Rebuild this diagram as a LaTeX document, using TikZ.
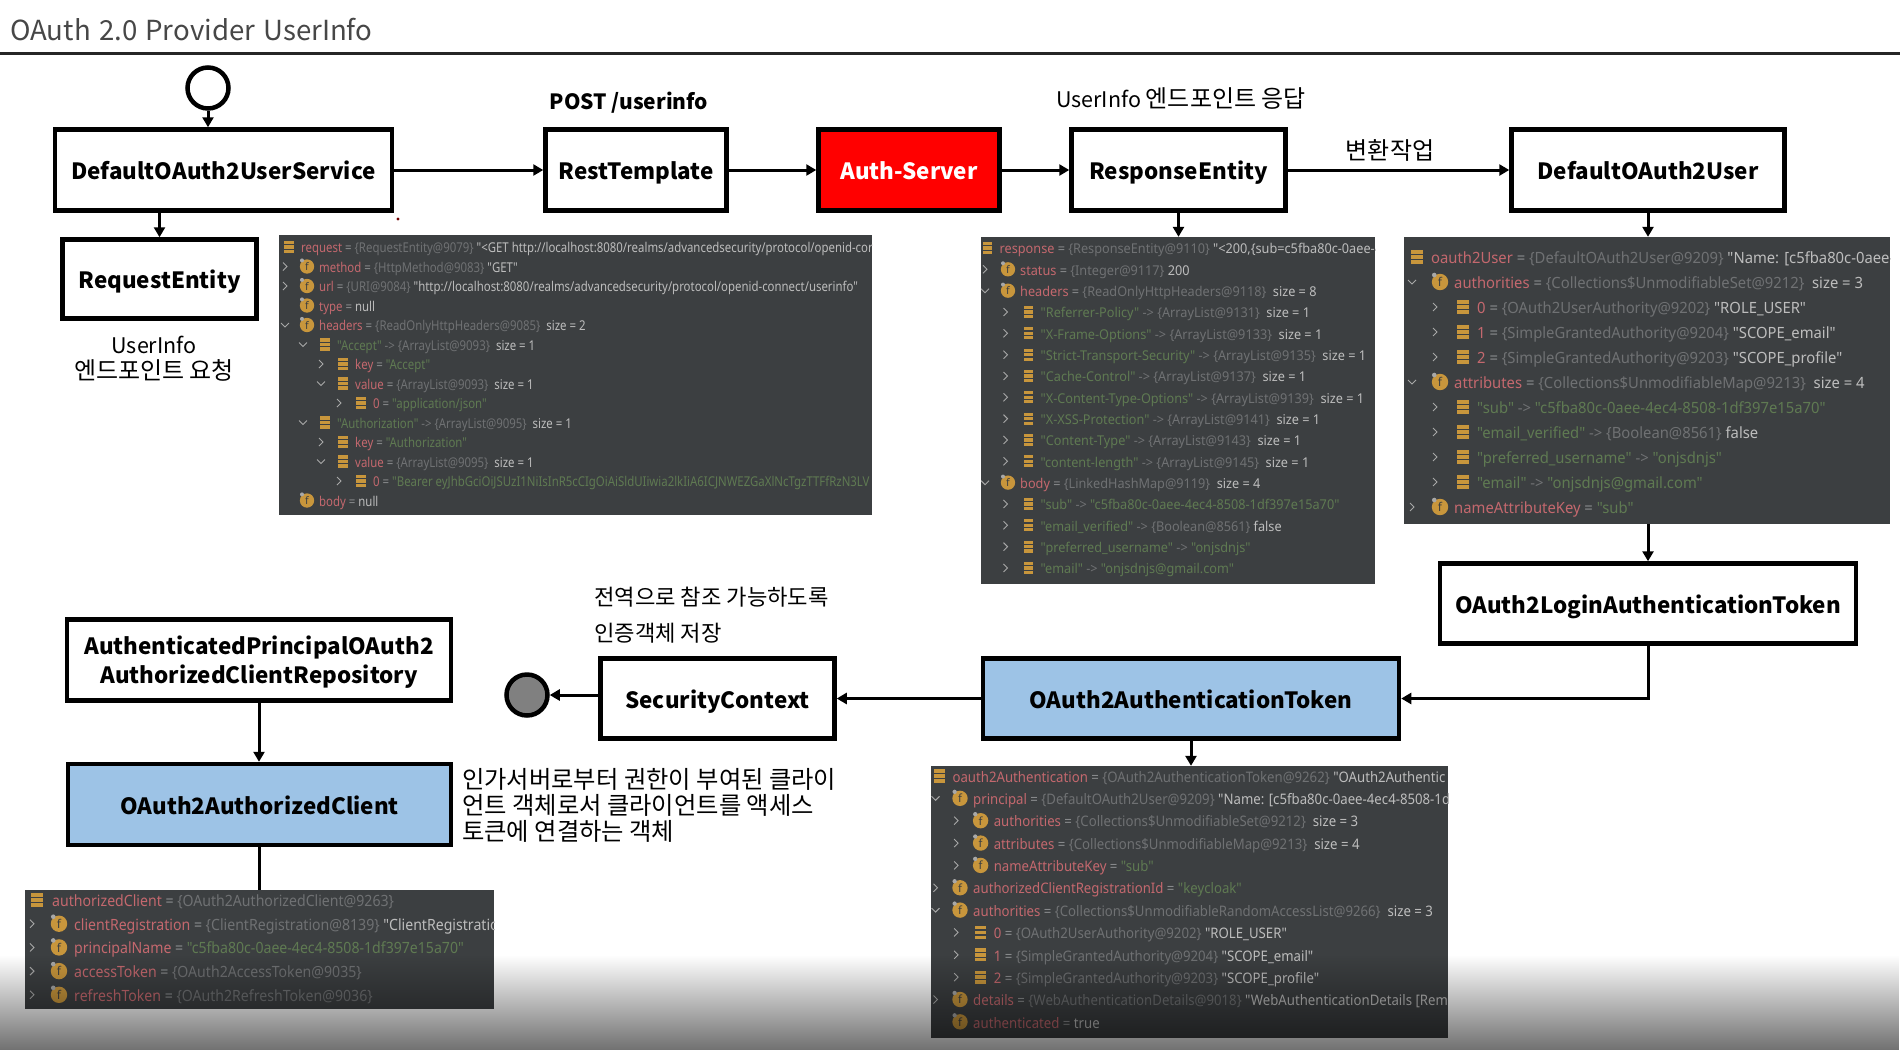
\documentclass[tikz,border=0pt]{standalone}
\usepackage{fontspec}
\setmainfont{Noto Sans CJK KR}
\newfontfamily\dbg{Noto Sans}
\usetikzlibrary{arrows.meta,fadings}
\definecolor{panelbg}{HTML}{3C3F41}
\definecolor{dbgred}{HTML}{C4686E}
\definecolor{dbgeq}{HTML}{8A8C8E}
\definecolor{dbgcl}{HTML}{6F7173}
\definecolor{dbgvl}{HTML}{BDBDBD}
\definecolor{dbgsg}{HTML}{5F7A52}
\definecolor{iconor}{HTML}{C8963C}
\definecolor{chevc}{HTML}{A8A8A8}
\definecolor{boxblue}{HTML}{9DC3E6}
\tikzfading[name=bottomfade, top color=transparent!100, bottom color=transparent!44]
\newcommand{\Fd}[1]{\textcolor{dbgred}{#1}}
\newcommand{\Eq}{\ \textcolor{dbgeq}{=}\ }
\newcommand{\Ar}{\ \textcolor{dbgcl}{->}\ }
\newcommand{\Cl}[1]{\textcolor{dbgcl}{\{#1\}}}
\newcommand{\Vl}[1]{\textcolor{dbgvl}{#1}}
\newcommand{\Sg}[1]{\textcolor{dbgsg}{#1}}
\newcommand{\Sz}[1]{\ \ \textcolor{dbgvl}{size = #1}}
\newcommand{\kr}[1]{{\fontsize{24}{26}\selectfont #1}}
\newcommand{\panelset}[9]{\def\pxl{#1}\def\pyt{#2}\def\pstep{#3}\def\pch{#4}\def\pico{#5}\def\ptex{#6}\def\pind{#7}\def\pfs{#8}\def\psx{#9}}
\newcommand{\prow}[6]{%
  \pgfmathsetmacro{\ry}{\pyt+#2*\pstep}%
  \pgfmathsetmacro{\rc}{\pxl+\pch+#3*\pind}%
  \pgfmathsetmacro{\ri}{\pxl+\pico+#3*\pind}%
  \pgfmathsetmacro{\rt}{\pxl+\ptex+#3*\pind}%
  \pgfmathsetmacro{\rb}{\ry+0.36*\pfs+1}%
  \pgfmathsetmacro{\rr}{0.53*\pfs}%
  \pgfmathsetmacro{\rff}{0.78*\pfs}%
  \if#4r\draw[chev] (\rc-2,\ry-4) -- (\rc+2,\ry) -- (\rc-2,\ry+4);\fi
  \if#4d\draw[chev] (\rc-4,\ry-2) -- (\rc,\ry+2) -- (\rc+4,\ry-2);\fi
  \if#5f
    \fill[iconor] (\ri,\ry) circle[radius=\rr];
    \fill[chevc] (\ri-0.7*\rr,\ry-0.85*\rr) circle[radius=0.28*\rr];
    \node[inner sep=0,text=panelbg] (#1-i) at (\ri,\ry) {\dbg\fontsize{\rff}{\pfs}\selectfont f};
  \fi
  \if#5b
    \fill[iconor] (\ri-0.68*\rr,\ry-0.85*\rr) rectangle (\ri+0.68*\rr,\ry-0.4*\rr);
    \fill[iconor] (\ri-0.68*\rr,\ry-0.22*\rr) rectangle (\ri+0.68*\rr,\ry+0.22*\rr);
    \fill[iconor] (\ri-0.68*\rr,\ry+0.4*\rr) rectangle (\ri+0.68*\rr,\ry+0.85*\rr);
  \fi
  \node[rowtext] (#1) at (\rt,\rb) {\scalebox{\psx}[1]{\dbg\fontsize{\pfs}{\pfs}\selectfont #6}};
}
\tikzset{
  basebox/.style={draw=black,line width=4.5pt,fill=white,inner sep=0pt,font=\bfseries\fontsize{22.4}{29}\selectfont,text=black},
  flowbox/.style={basebox,text height=19pt,text depth=0pt},
  bluebox/.style={flowbox,fill=boxblue},
  redbox/.style={flowbox,fill=red,text=white},
  panel/.style={fill=panelbg,inner sep=0pt},
  flow/.style={line width=3pt,-{Triangle[length=10pt,width=11pt]}},
  plainline/.style={line width=3pt},
  rowtext/.style={anchor=base west,inner sep=0pt},
  chev/.style={draw=chevc,line width=0.9pt},
  label/.style={inner sep=0pt,text=black,font=\fontsize{21.5}{26}\selectfont},
  boldlabel/.style={label,font=\bfseries\fontsize{21}{26}\selectfont},
}
\begin{document}
\begin{tikzpicture}[x=1pt,y=-1pt]
\useasboundingbox (0,0) rectangle (1900,1050);
\fill[white] (0,0) rectangle (1900,1050);
% title
\node[inner sep=0,anchor=west,text=black!72,font=\fontsize{27.6}{32}\selectfont] (title) at (10,30) {OAuth\hspace{2pt} 2.0\hspace{2pt} Provider\hspace{2pt} UserInfo};
\coordinate (ruleL) at (0,53);
\coordinate (ruleR) at (1900,53);
\draw[line width=3pt,black!85] (ruleL) -- (ruleR);
% flow boxes
\node[flowbox,minimum width=337,minimum height=81] (svc) at (223.5,170) {DefaultOAuth2UserService};
\node[flowbox,minimum width=181,minimum height=81] (rest) at (636,170) {RestTemplate};
\node[redbox,minimum width=181,minimum height=81] (auth) at (909,170) {Auth-Server};
\node[flowbox,minimum width=214,minimum height=81] (resp) at (1178.5,170) {ResponseEntity};
\node[flowbox,minimum width=273,minimum height=81] (user) at (1648,170) {DefaultOAuth2User};
\node[flowbox,minimum width=194,minimum height=79] (reqent) at (159.5,279) {RequestEntity};
\node[flowbox,minimum width=416,minimum height=80] (login) at (1648,603.5) {OAuth2LoginAuthenticationToken};
\node[bluebox,minimum width=416,minimum height=80] (atok) at (1191,698.5) {OAuth2AuthenticationToken};
\node[flowbox,minimum width=234,minimum height=80] (sec) at (717.5,698.5) {SecurityContext};
\node[basebox,minimum width=384,minimum height=81] (repo) at (259,660) {\raisebox{-3.5pt}[\height][\depth]{\begin{tabular}{@{}c@{}}AuthenticatedPrincipalOAuth2\\AuthorizedClientRepository\end{tabular}}};
\node[bluebox,minimum width=383,minimum height=81] (cli) at (259.5,804.5) {OAuth2AuthorizedClient};
\node[draw=black,line width=4.5pt,fill=white,circle,minimum size=41,inner sep=0] (start) at (208,88) {};
\node[draw=black,line width=4.5pt,fill=black!50,circle,minimum size=41,inner sep=0] (finish) at (527,695) {};
\fill[red!45!black] (398,219) circle[radius=1.6];
% panels
\node[panel,minimum width=593,minimum height=280] (preq) at (575.5,375) {};
\node[panel,minimum width=394,minimum height=347] (presp) at (1178,410.5) {};
\node[panel,minimum width=486,minimum height=287] (puser) at (1647,380.5) {};
\node[panel,minimum width=517,minimum height=272] (pauth) at (1189.5,902) {};
\node[panel,minimum width=469,minimum height=119] (pcli) at (259.5,949.5) {};
% connectors
\draw[flow] (start.south) -- (start.south |- svc.north);
\draw[flow] (svc) -- (rest);
\draw[flow] (rest) -- (auth);
\draw[flow] (auth) -- (resp);
\draw[flow] (resp) -- (user);
\draw[flow] (reqent.north |- svc.south) -- (reqent.north);
\draw[flow] (resp.south) -- (resp.south |- presp.north);
\draw[flow] (user.south) -- (user.south |- puser.north);
\draw[flow] (login.north |- puser.south) -- (login.north);
\draw[flow] (login.south) |- (atok.east);
\draw[flow] (atok) -- (sec);
\draw[flow] (sec.west |- finish.east) -- (finish.east);
\draw[flow] (atok.south) -- (atok.south |- pauth.north);
\draw[flow] (repo.south) -- (repo.south |- cli.north);
\draw[plainline] (cli.south) -- (cli.south |- pcli.north);
% labels
\node[boldlabel] (l1) at (629,103) {POST /userinfo};
\node[label] (l2) at (1181,99) {UserInfo \kr{엔드포인트 응답}};
\node[label] (l3) at (1390,150) {\kr{변환작업}};
\node[label,align=center] (l4) at (154,359) {UserInfo\\\kr{엔드포인트 요청}};
\node[label,anchor=west,font=\fontsize{22.2}{26}\selectfont] (l5) at (594,597) {전역으로 참조 가능하도록};
\node[label,anchor=west,font=\fontsize{22.2}{26}\selectfont] (l6) at (594,633) {인증객체 저장};
\node[label,anchor=west,align=left,font=\fontsize{24.3}{26}\selectfont] (l7) at (462,805.5) {인가서버로부터 권한이 부여된 클라이\\언트 객체로서 클라이언트를 액세스\\토큰에 연결하는 객체};
% request panel rows
\begin{scope}
\clip (preq.north west) rectangle (preq.south east);
\panelset{279}{247}{19.5}{6}{28}{40}{18}{13.5}{0.845}
\prow{qa}{0}{-1}{n}{b}{\Fd{request}\Eq\Cl{RequestEntity@9079} \Vl{"<GET http://localhost:8080/realms/advancedsecurity/protocol/openid-cor}}
\prow{qb}{1}{0}{r}{f}{\Fd{method}\Eq\Cl{HttpMethod@9083} \Vl{"GET"}}
\prow{qc}{2}{0}{r}{f}{\Fd{url}\Eq\Cl{URI@9084} \Vl{"http://localhost:8080/realms/advancedsecurity/protocol/openid-connect/userinfo"}}
\prow{qd}{3}{0}{n}{f}{\Fd{type}\Eq\Vl{null}}
\prow{qe}{4}{0}{d}{f}{\Fd{headers}\Eq\Cl{ReadOnlyHttpHeaders@9085}\Sz{2}}
\prow{qf}{5}{1}{d}{b}{\Sg{"Accept"}\Ar\Cl{ArrayList@9093}\Sz{1}}
\prow{qg}{6}{2}{r}{b}{\Fd{key}\Eq\Sg{"Accept"}}
\prow{qh}{7}{2}{d}{b}{\Fd{value}\Eq\Cl{ArrayList@9093}\Sz{1}}
\prow{qi}{8}{3}{r}{b}{\Fd{0}\Eq\Sg{"application/json"}}
\prow{qj}{9}{1}{d}{b}{\Sg{"Authorization"}\Ar\Cl{ArrayList@9095}\Sz{1}}
\prow{qk}{10}{2}{r}{b}{\Fd{key}\Eq\Sg{"Authorization"}}
\prow{ql}{11}{2}{d}{b}{\Fd{value}\Eq\Cl{ArrayList@9095}\Sz{1}}
\prow{qm}{12}{3}{r}{b}{\Fd{0}\Eq\Sg{"Bearer eyJhbGciOiJSUzI1NiIsInR5cCIgOiAiSldUIiwia2lkIiA6ICJNWEZGaXlNcTgzTTFfRzN3LV}}
\prow{qn}{13}{0}{n}{f}{\Fd{body}\Eq\Vl{null}}
\end{scope}
% response panel rows
\begin{scope}
\clip (presp.north west) rectangle (presp.south east);
\panelset{981}{248}{21.33}{4}{27}{39}{20.5}{13.5}{0.94}
\prow{ra}{0}{-1}{n}{b}{\Fd{response}\Eq\Cl{ResponseEntity@9110} \Vl{"<200,\{sub=c5fba80c-0aee-4}}
\prow{rb}{1}{0}{r}{f}{\Fd{status}\Eq\Cl{Integer@9117} \Vl{200}}
\prow{rc}{2}{0}{d}{f}{\Fd{headers}\Eq\Cl{ReadOnlyHttpHeaders@9118}\Sz{8}}
\prow{rd}{3}{1}{r}{b}{\Sg{"Referrer-Policy"}\Ar\Cl{ArrayList@9131}\Sz{1}}
\prow{re}{4}{1}{r}{b}{\Sg{"X-Frame-Options"}\Ar\Cl{ArrayList@9133}\Sz{1}}
\prow{rf}{5}{1}{r}{b}{\Sg{"Strict-Transport-Security"}\Ar\Cl{ArrayList@9135}\Sz{1}}
\prow{rg}{6}{1}{r}{b}{\Sg{"Cache-Control"}\Ar\Cl{ArrayList@9137}\Sz{1}}
\prow{rh}{7}{1}{r}{b}{\Sg{"X-Content-Type-Options"}\Ar\Cl{ArrayList@9139}\Sz{1}}
\prow{ri}{8}{1}{r}{b}{\Sg{"X-XSS-Protection"}\Ar\Cl{ArrayList@9141}\Sz{1}}
\prow{rj}{9}{1}{r}{b}{\Sg{"Content-Type"}\Ar\Cl{ArrayList@9143}\Sz{1}}
\prow{rk}{10}{1}{r}{b}{\Sg{"content-length"}\Ar\Cl{ArrayList@9145}\Sz{1}}
\prow{rl}{11}{0}{d}{f}{\Fd{body}\Eq\Cl{LinkedHashMap@9119}\Sz{4}}
\prow{rm}{12}{1}{r}{b}{\Sg{"sub"}\Ar\Sg{"c5fba80c-0aee-4ec4-8508-1df397e15a70"}}
\prow{rn}{13}{1}{r}{b}{\Sg{"email\_verified"}\Ar\Cl{Boolean@8561} \Vl{false}}
\prow{ro}{14}{1}{r}{b}{\Sg{"preferred\_username"}\Ar\Sg{"onjsdnjs"}}
\prow{rp}{15}{1}{r}{b}{\Sg{"email"}\Ar\Sg{"onjsdnjs@gmail.com"}}
\end{scope}
% oauth2User panel rows
\begin{scope}
\clip (puser.north west) rectangle (puser.south east);
\panelset{1404}{257}{25}{8}{36}{50}{23}{15.5}{0.955}
\prow{ua}{0}{-1}{n}{b}{\Fd{oauth2User}\Eq\Cl{DefaultOAuth2User@9209} \Vl{"Name: [c5fba80c-0aee-}}
\prow{ub}{1}{0}{d}{f}{\Fd{authorities}\Eq\Cl{Collections\$UnmodifiableSet@9212}\Sz{3}}
\prow{uc}{2}{1}{r}{b}{\Fd{0}\Eq\Cl{OAuth2UserAuthority@9202} \Vl{"ROLE\_USER"}}
\prow{ud}{3}{1}{r}{b}{\Fd{1}\Eq\Cl{SimpleGrantedAuthority@9204} \Vl{"SCOPE\_email"}}
\prow{ue}{4}{1}{r}{b}{\Fd{2}\Eq\Cl{SimpleGrantedAuthority@9203} \Vl{"SCOPE\_profile"}}
\prow{uf}{5}{0}{d}{f}{\Fd{attributes}\Eq\Cl{Collections\$UnmodifiableMap@9213}\Sz{4}}
\prow{ug}{6}{1}{r}{b}{\Sg{"sub"}\Ar\Sg{"c5fba80c-0aee-4ec4-8508-1df397e15a70"}}
\prow{uh}{7}{1}{r}{b}{\Sg{"email\_verified"}\Ar\Cl{Boolean@8561} \Vl{false}}
\prow{ui}{8}{1}{r}{b}{\Sg{"preferred\_username"}\Ar\Sg{"onjsdnjs"}}
\prow{uj}{9}{1}{r}{b}{\Sg{"email"}\Ar\Sg{"onjsdnjs@gmail.com"}}
\prow{uk}{10}{0}{r}{f}{\Fd{nameAttributeKey}\Eq\Sg{"sub"}}
\end{scope}
% oauth2Authentication panel rows
\begin{scope}
\clip (pauth.north west) rectangle (pauth.south east);
\panelset{931}{776}{22.35}{4.5}{29}{42}{20.6}{14.5}{0.91}
\prow{aa}{0}{-1}{n}{b}{\Fd{oauth2Authentication}\Eq\Cl{OAuth2AuthenticationToken@9262} \Vl{"OAuth2Authentic}}
\prow{ab}{1}{0}{d}{f}{\Fd{principal}\Eq\Cl{DefaultOAuth2User@9209} \Vl{"Name: [c5fba80c-0aee-4ec4-8508-1d}}
\prow{ac}{2}{1}{r}{f}{\Fd{authorities}\Eq\Cl{Collections\$UnmodifiableSet@9212}\Sz{3}}
\prow{ad}{3}{1}{r}{f}{\Fd{attributes}\Eq\Cl{Collections\$UnmodifiableMap@9213}\Sz{4}}
\prow{ae}{4}{1}{r}{f}{\Fd{nameAttributeKey}\Eq\Sg{"sub"}}
\prow{af}{5}{0}{r}{f}{\Fd{authorizedClientRegistrationId}\Eq\Sg{"keycloak"}}
\prow{ag}{6}{0}{d}{f}{\Fd{authorities}\Eq\Cl{Collections\$UnmodifiableRandomAccessList@9266}\Sz{3}}
\prow{ah}{7}{1}{r}{b}{\Fd{0}\Eq\Cl{OAuth2UserAuthority@9202} \Vl{"ROLE\_USER"}}
\prow{ai}{8}{1}{r}{b}{\Fd{1}\Eq\Cl{SimpleGrantedAuthority@9204} \Vl{"SCOPE\_email"}}
\prow{aj}{9}{1}{r}{b}{\Fd{2}\Eq\Cl{SimpleGrantedAuthority@9203} \Vl{"SCOPE\_profile"}}
\prow{ak}{10}{0}{r}{f}{\Fd{details}\Eq\Cl{WebAuthenticationDetails@9018} \Vl{"WebAuthenticationDetails [Rem}}
\prow{al}{11}{0}{n}{f}{\Fd{authenticated}\Eq\Vl{true}}
\end{scope}
% authorizedClient panel rows
\begin{scope}
\clip (pcli.north west) rectangle (pcli.south east);
\panelset{25}{900}{23.7}{7}{34}{49}{22}{15.5}{0.91}
\prow{ca}{0}{-1}{n}{b}{\Fd{authorizedClient}\Eq\Cl{OAuth2AuthorizedClient@9263}}
\prow{cb}{1}{0}{r}{f}{\Fd{clientRegistration}\Eq\Cl{ClientRegistration@8139} \Vl{"ClientRegistratio}}
\prow{cc}{2}{0}{r}{f}{\Fd{principalName}\Eq\Sg{"c5fba80c-0aee-4ec4-8508-1df397e15a70"}}
\prow{cd}{3}{0}{r}{f}{\Fd{accessToken}\Eq\Cl{OAuth2AccessToken@9035}}
\prow{ce}{4}{0}{r}{f}{\Fd{refreshToken}\Eq\Cl{OAuth2RefreshToken@9036}}
\end{scope}
% bottom gradient of the video frame
\fill[black,path fading=bottomfade] (0,955) rectangle (1900,1050);
\end{tikzpicture}
\end{document}
